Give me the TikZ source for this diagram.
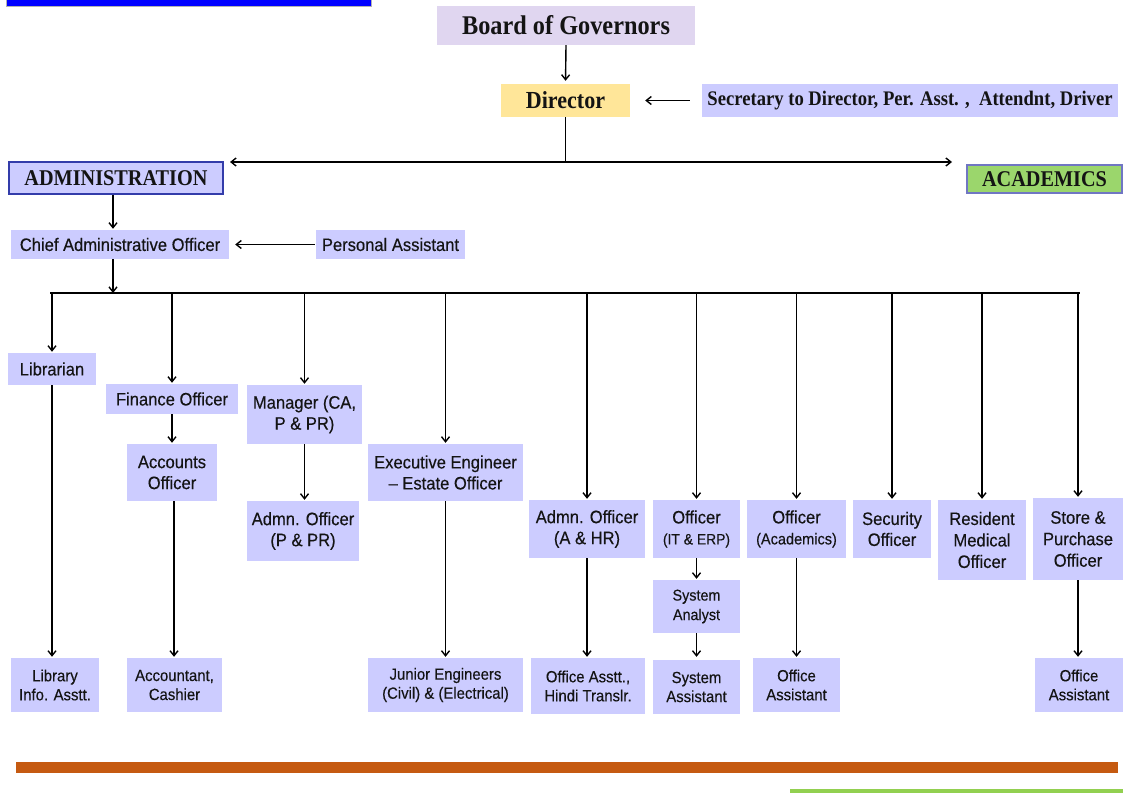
\documentclass[tikz,border=0pt]{standalone}
\usepackage{fontspec}
\setmainfont{Liberation Serif}[FakeStretch=0.9]
\newfontfamily\sansf{Liberation Sans}[FakeStretch=0.92, FakeBold=0.3]
\usetikzlibrary{arrows.meta}
\definecolor{boxblue}{RGB}{204,204,255}
\definecolor{boglav}{RGB}{224,214,240}
\definecolor{diryel}{RGB}{255,230,153}
\definecolor{acgreen}{RGB}{155,214,108}
\definecolor{bordblue}{RGB}{51,60,170}
\definecolor{barorange}{RGB}{197,90,17}
\definecolor{bargreen}{RGB}{146,208,80}
\definecolor{txt}{RGB}{20,20,20}
\tikzset{
  box/.style={fill=boxblue, inner sep=0pt, align=center, text=txt,
    font=\sansf\fontsize{18}{21}\selectfont},
  smallbox/.style={box, font=\sansf\fontsize{16.2}{19}\selectfont},
  serifbox/.style={inner sep=0pt, align=center, text=txt,
    font=\bfseries\fontsize{20.7}{23}\selectfont},
  conn/.style={line width=1.4pt, black},
  arr/.style={conn, -{Straight Barb[length=5pt,width=8pt]}},
  darr/.style={conn, {Straight Barb[length=5pt,width=8pt]}-{Straight Barb[length=5pt,width=8pt]}},
}
\begin{document}
\begin{tikzpicture}[x=1pt,y=-1pt]
\useasboundingbox (0,0) rectangle (1123,792);
% decorative bars
\fill[blue, draw=gray!60, line width=0.6pt] (6,-1) rectangle (371,6);
\fill[barorange] (16,762) rectangle (1118,773);
\fill[bargreen] (790,789) rectangle (1123,793);

% top level
\node[serifbox, fill=boglav, minimum width=258pt, minimum height=39pt,
  font=\bfseries\fontsize{27}{30}\selectfont] (bog) at (566,25.5) {Board of Governors};
\node[serifbox, fill=diryel, minimum width=129pt, minimum height=33pt,
  font=\bfseries\fontsize{24.5}{27}\selectfont] (dir) at (565.5,100.5) {Director};
\node[serifbox, fill=boxblue, minimum width=416pt, minimum height=33pt] (sec) at (910,100.5)
  {Secretary to Director, Per. Asst. , \ Attendnt, Driver};
\node[serifbox, fill=boxblue, draw=bordblue, line width=1.2pt, minimum width=214pt, minimum height=32pt,
  font=\bfseries\fontsize{22.5}{25}\selectfont] (admin) at (116,178) {ADMINISTRATION};
\node[serifbox, fill=acgreen, draw=bordblue!70, line width=1.2pt, minimum width=155pt, minimum height=28pt,
  font=\bfseries\fontsize{22.5}{25}\selectfont] (acad) at (1044.5,179) {ACADEMICS};

\node[box, minimum width=218pt, minimum height=29pt] (cao) at (120,244.5) {Chief Administrative Officer};
\node[box, minimum width=149pt, minimum height=29pt] (pa) at (390.5,244.5) {Personal Assistant};

% second level
\node[box, minimum width=88pt, minimum height=32pt] (lib) at (52,369) {Librarian};
\node[box, minimum width=132pt, minimum height=30pt] (fin) at (172,399) {Finance Officer};
\node[box, minimum width=90pt, minimum height=57pt] (acc) at (172,472.5) {Accounts\\Officer};
\node[box, minimum width=115pt, minimum height=59pt] (mgr) at (304.5,414.5) {Manager (CA,\\P \& PR)};
\node[box, minimum width=112pt, minimum height=60pt] (admpp) at (303,531) {Admn. Officer\\(P \& PR)};
\node[box, minimum width=155pt, minimum height=57pt] (exe) at (445.5,472.5) {Executive Engineer\\– Estate Officer};
\node[box, minimum width=116pt, minimum height=58pt] (admhr) at (587,529) {Admn. Officer\\(A \& HR)};
\node[box, minimum width=87pt, minimum height=58pt] (offit) at (696.5,529)
  {Officer\\{\fontsize{15.1}{19}\selectfont (IT \& ERP)}};
\node[box, minimum width=99pt, minimum height=58pt] (offac) at (796.5,529)
  {Officer\\{\fontsize{15.8}{19}\selectfont (Academics)}};
\node[box, minimum width=78pt, minimum height=58pt] (secoff) at (892,529) {Security\\Officer};
\node[box, minimum width=88pt, minimum height=80pt, font=\sansf\fontsize{18}{21.5}\selectfont] (rmo) at (982,540) {Resident\\Medical\\Officer};
\node[box, minimum width=90pt, minimum height=82pt, font=\sansf\fontsize{18}{21.5}\selectfont] (spo) at (1078,539) {Store \&\\Purchase\\Officer};
\node[box, minimum width=87pt, minimum height=53pt, font=\sansf\fontsize{15.6}{19.5}\selectfont] (sa) at (696.5,606.5) {System\\Analyst};

% bottom row
\node[smallbox, minimum width=88pt, minimum height=54pt] (lia) at (55,685) {Library\\Info. Asstt.};
\node[smallbox, minimum width=95pt, minimum height=54pt] (accn) at (174.5,685) {Accountant,\\Cashier};
\node[smallbox, minimum width=155pt, minimum height=54pt] (jre) at (445.5,685) {Junior Engineers\\(Civil) \& (Electrical)};
\node[smallbox, minimum width=114pt, minimum height=56pt] (oah) at (588,686) {Office Asstt.,\\Hindi Translr.};
\node[smallbox, minimum width=87pt, minimum height=54pt] (sysa) at (696.5,687) {System\\Assistant};
\node[smallbox, minimum width=87pt, minimum height=54pt] (oaa) at (796.5,685) {Office\\Assistant};
\node[smallbox, minimum width=88pt, minimum height=54pt] (oas) at (1079,685) {Office\\Assistant};

% connectors: top
\draw[arr, shorten >=3pt] (bog.south) -- (dir.north);
\draw[arr, shorten <=12pt, shorten >=15pt] (sec.west) -- (dir.east);
\coordinate (hl) at (230,162);
\coordinate (hr) at (952,162);
\draw[conn] (dir.south) -- (dir.south |- hl);
\draw[darr] (hl) -- (hr);
\draw[arr, shorten >=1pt] ([xshift=-3pt]admin.south) -- ([xshift=-3pt]admin.south |- cao.north);
\draw[arr, shorten <=1pt, shorten >=6pt] (pa.west) -- (cao.east);

% bus
\coordinate (bl) at (50,293);
\coordinate (br) at (1080,293);
\draw[arr] ([xshift=-7pt]cao.south) -- ([xshift=-7pt]cao.south |- bl);
\draw[conn] (bl) -- (br);
\foreach \n in {lib,fin,mgr,exe,admhr,offit,offac,secoff,rmo,spo}
  \draw[arr, shorten >=1pt] (\n.north |- bl) -- (\n.north);

% vertical chains
\draw[arr, shorten >=1pt] (lib.south) -- (lib.south |- lia.north);
\draw[arr, shorten >=1pt] (fin.south) -- (acc.north);
\draw[arr, shorten >=1pt] ([xshift=2pt]acc.south) -- ([xshift=2pt]acc.south |- accn.north);
\draw[arr, shorten >=1pt] (mgr.south) -- (mgr.south |- admpp.north);
\draw[arr, shorten >=1pt] (exe.south) -- (jre.north);
\draw[arr, shorten >=1pt] (admhr.south) -- (admhr.south |- oah.north);
\draw[arr, shorten >=1pt] (offit.south) -- (sa.north);
\draw[arr, shorten >=3pt] (sa.south) -- (sysa.north);
\draw[arr, shorten >=1pt] (offac.south) -- (oaa.north);
\draw[arr, shorten >=1pt] (spo.south) -- (spo.south |- oas.north);
\end{tikzpicture}
\end{document}
